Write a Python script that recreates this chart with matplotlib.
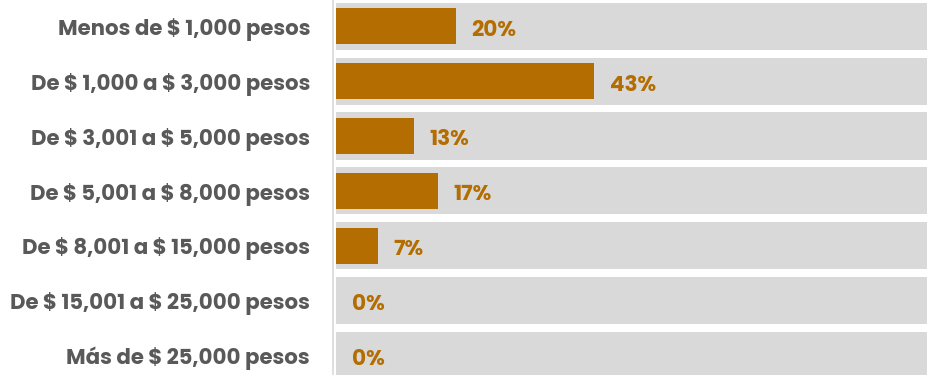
import matplotlib
matplotlib.use("Agg")
import matplotlib.pyplot as plt
import matplotlib.transforms as mtransforms

categorias = ["Menos de $ 1,000 pesos", "De $ 1,000 a $ 3,000 pesos",
              "De $ 3,001 a $ 5,000 pesos", "De $ 5,001 a $ 8,000 pesos",
              "De $ 8,001 a $ 15,000 pesos", "De $ 15,001 a $ 25,000 pesos",
              "Más de $ 25,000 pesos"]
valores = [20, 43, 13, 17, 7, 0, 0]
fondo = [100] * len(categorias)

naranja = "#B36D00"
gris = "#D9D9D9"
texto = "#595959"
fuente = ["Poppins", "Open Sans", "DejaVu Sans"]

fig = plt.figure(figsize=(9.28, 3.75), dpi=100)
ax = fig.add_axes([336 / 928, 0, 600 / 928, 1])

y = list(range(len(categorias)))
ax.barh(y, fondo, height=0.86, color=gris, zorder=1)
ax.barh(y, valores, height=0.66, color=naranja, zorder=2)

for yi, v in zip(y, valores):
    ax.text(v + 2.6, yi + 0.08, f"{v}%", va="center", ha="left", color=naranja,
            fontsize=15.5, fontweight="bold", family=fuente, zorder=3)

# etiquetas de categoria (sin mathtext por los signos $)
trans = mtransforms.blended_transform_factory(fig.transFigure, ax.transData)
for yi, c in zip(y, categorias):
    fig.text(310 / 928, yi + 0.06, c, transform=trans, ha="right", va="center",
             fontsize=15.3, fontweight="bold", color=texto, family=fuente,
             parse_math=False)

ax.set_xlim(0, 100)
ax.set_ylim(6.36, -0.48)
ax.set_yticks([])
ax.set_xticks([])
for s in ["top", "right", "bottom"]:
    ax.spines[s].set_visible(False)
ax.spines["left"].set_color(gris)
ax.spines["left"].set_linewidth(1.2)
ax.spines["left"].set_position(("outward", 2))

fig.savefig("out.png", dpi=100)
